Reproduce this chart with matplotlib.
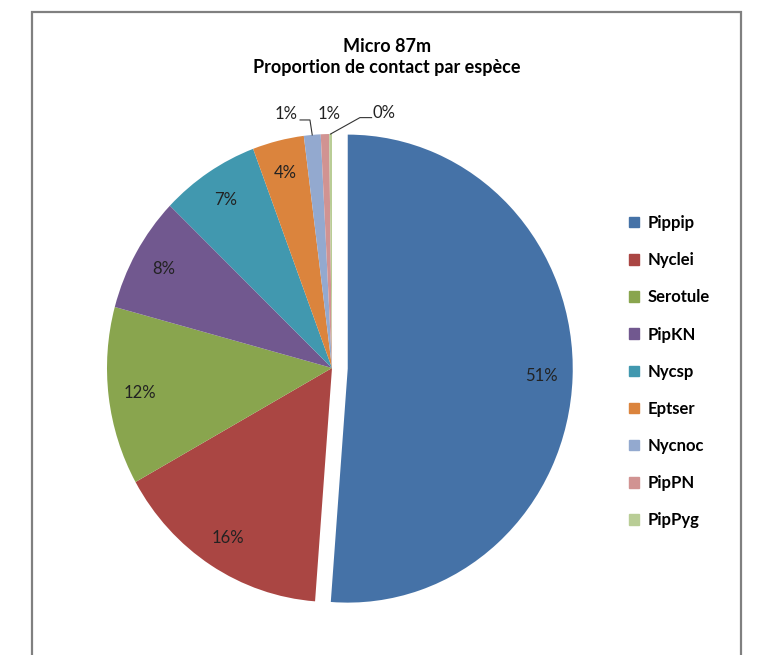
import numpy as np
import matplotlib
matplotlib.use('Agg')
import matplotlib.pyplot as plt
from matplotlib.patches import Rectangle

# data
species = ['Pippip', 'Nyclei', 'Serotule', 'PipKN', 'Nycsp', 'Eptser', 'Nycnoc', 'PipPN', 'PipPyg']
share = [51.2, 15.7, 12.3, 8.0, 7.1, 3.7, 1.2, 0.6, 0.2]
colors = ['#4572A7', '#AA4643', '#89A54E', '#71588F', '#4198AF',
          '#DB843D', '#93A9CF', '#D19392', '#B9CD96']
explode = [0.07, 0, 0, 0, 0, 0, 0, 0, 0]

plt.rcParams['font.family'] = ['Lato', 'DejaVu Sans']

W, H = 757, 655
fig = plt.figure(figsize=(W / 100, H / 100), dpi=100)

# pie is slightly taller than wide in the original
rx, ry = 225, 234
cx, cy = 332, 368
a = b = 1.2
ax = fig.add_axes([(cx - a * rx) / W, (H - cy - b * ry) / H, 2 * a * rx / W, 2 * b * ry / H])

wedges, _ = ax.pie(share, colors=colors, explode=explode, startangle=90,
                   counterclock=False, wedgeprops=dict(linewidth=0))
ax.set_xlim(-a, a)
ax.set_ylim(-b, b)
ax.set_aspect('auto')
ax.axis('off')

tot = sum(share)
for i, w in enumerate(wedges):
    ang = np.deg2rad((w.theta1 + w.theta2) / 2)
    lbl = '%d%%' % round(share[i] * 100 / tot)
    ox, oy = w.center
    if share[i] >= 3:
        r = 0.86
        ax.text(ox + r * np.cos(ang), oy + r * np.sin(ang), lbl,
                ha='center', va='center', fontsize=12, color='#222222')

# small slices: labels above the pie with leader lines
lc = '#333333'
for j, i in enumerate([6, 7, 8]):
    w = wedges[i]
    ang = np.deg2rad((w.theta1 + w.theta2) / 2)
    px, py = np.cos(ang), np.sin(ang)
    lbl = '%d%%' % round(share[i] * 100 / tot)
    if j == 0:
        ax.plot([px, -0.098, -0.142], [py, 1.06, 1.06], color=lc, lw=0.8)
        ax.text(-0.155, 1.085, lbl, ha='right', va='center', fontsize=12, color='#222222')
    elif j == 1:
        ax.text(-0.013, 1.085, lbl, ha='center', va='center', fontsize=12, color='#222222')
    else:
        ax.plot([px, 0.124, 0.176], [py, 1.07, 1.07], color=lc, lw=0.8)
        ax.text(0.182, 1.09, lbl, ha='left', va='center', fontsize=12, color='#222222')

fig.text(387 / W, 1 - 46 / H, 'Micro 87m', ha='center', va='center',
         fontsize=13, fontweight='bold')
fig.text(387 / W, 1 - 68 / H, 'Proportion de contact par espèce', ha='center',
         va='center', fontsize=13, fontweight='bold')

handles = [Rectangle((0, 0), 1, 1, color=c) for c in colors]
fig.legend(handles, species, loc='upper left', bbox_to_anchor=(614 / W, 1 - 200 / H),
           frameon=False, prop=dict(size=12, weight='bold'), handlelength=0.6,
           handleheight=0.6, handletextpad=0.5, labelspacing=1.27)

fig.patches.append(Rectangle((32 / W, -0.02), (741 - 32) / W, 0.02 + 1 - 12 / H,
                             transform=fig.transFigure, fill=False,
                             edgecolor='#808080', linewidth=1.6))

fig.savefig('out.png', dpi=100)
